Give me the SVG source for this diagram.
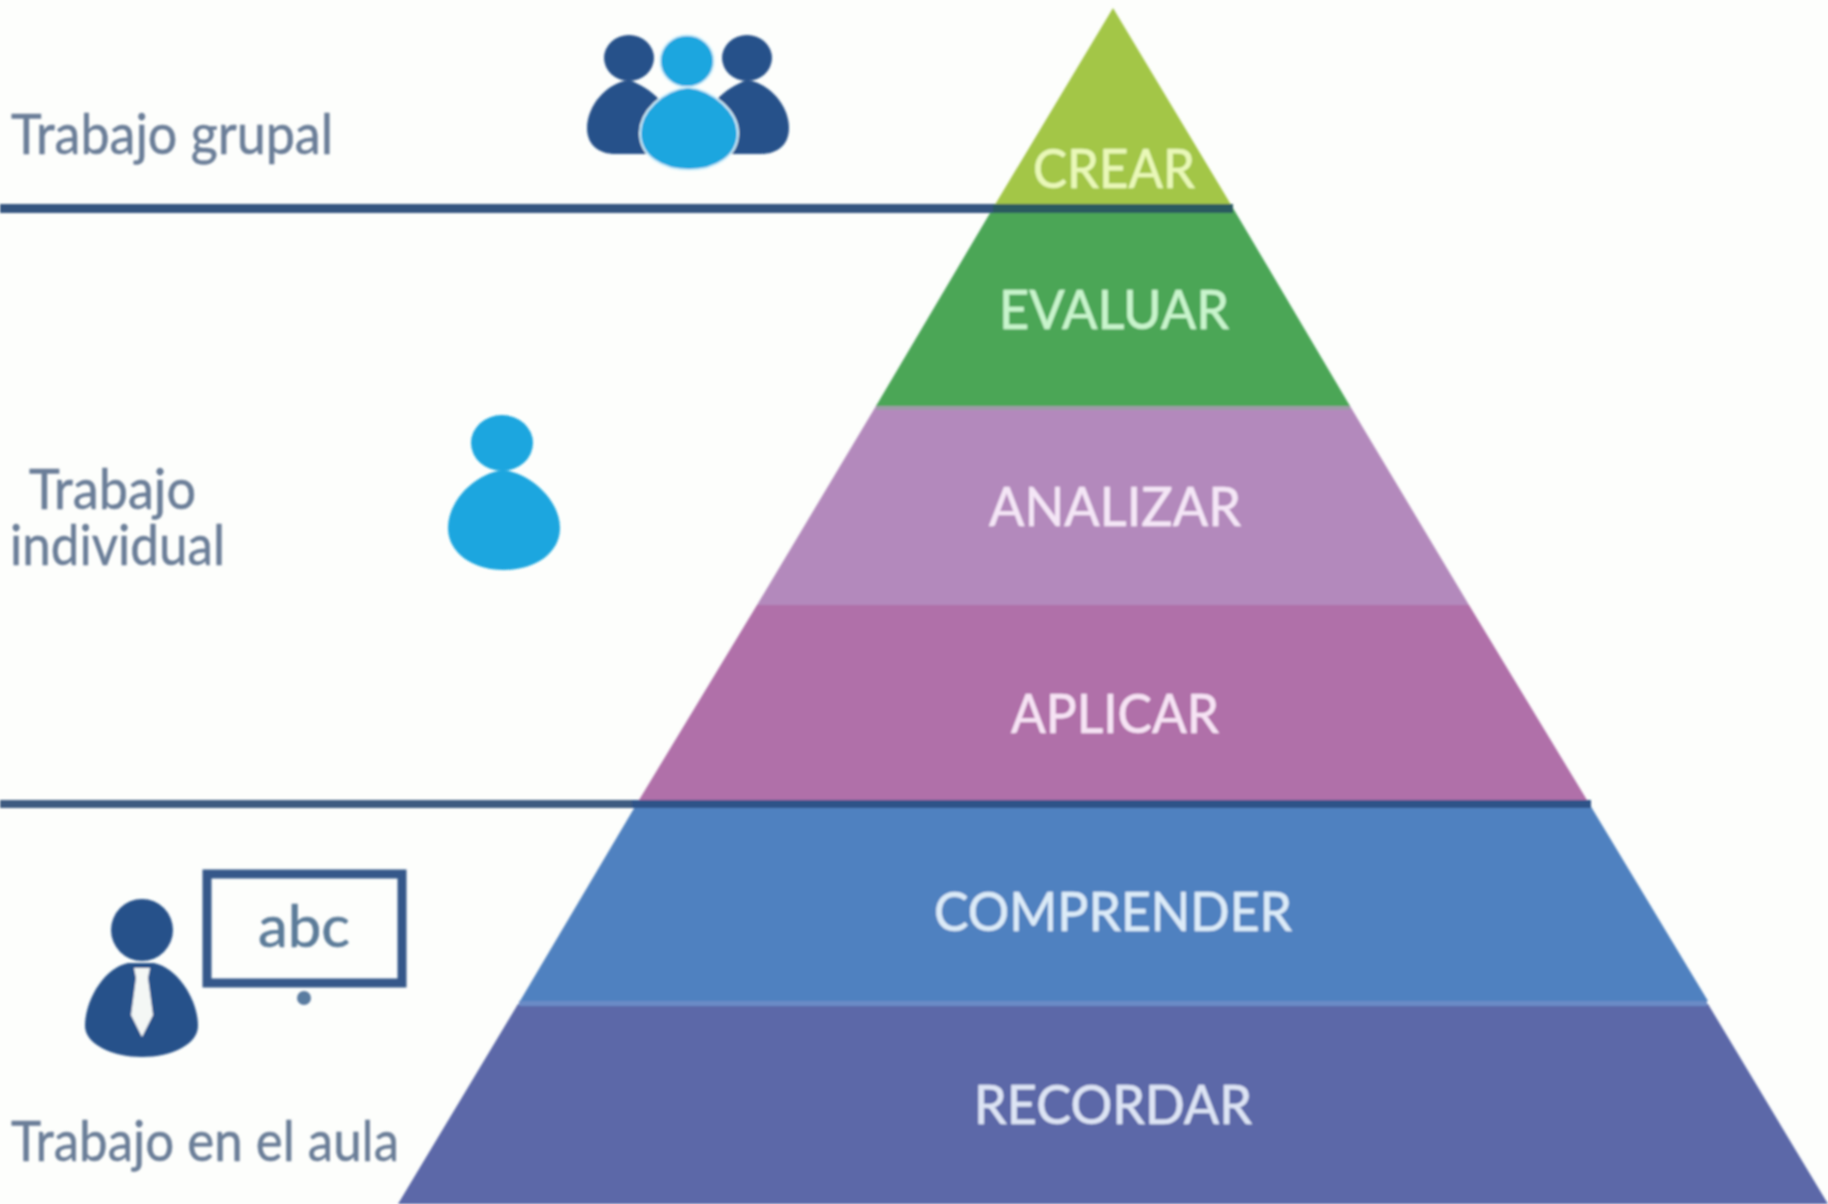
<svg xmlns="http://www.w3.org/2000/svg" width="1828" height="1204" viewBox="0 0 1828 1204">
<defs>
<style>
.lay{font-family:"Lato","Open Sans","Liberation Sans",sans-serif;font-size:54px;text-anchor:middle;stroke-width:.6px}
.side{font-family:"Lato","Open Sans","Liberation Sans",sans-serif;font-size:57px;fill:#6b7e98;stroke:#6b7e98;stroke-width:.5px}
</style>
<filter id="soft" x="-2%" y="-2%" width="104%" height="104%"><feGaussianBlur stdDeviation="1"/></filter>
</defs>
<rect width="1828" height="1204" fill="#fdfefc"/>
<g filter="url(#soft)">
<g id="layer-recordar"><polygon points="518,1004 1708,1004 1828,1204 398,1204" fill="#5b67a8"/><rect x="519" y="1001" width="1188" height="5" fill="#6b8bc6"/><text class="lay" x="1113" y="1124" textLength="278" lengthAdjust="spacingAndGlyphs" fill="#dde4f4" stroke="#dde4f4">RECORDAR</text></g>
<g id="layer-comprender"><polygon points="636,805 1590,805 1708,1001 520,1001" fill="#5081c0"/><text class="lay" x="1113" y="931" textLength="358" lengthAdjust="spacingAndGlyphs" fill="#dcebf8" stroke="#dcebf8">COMPRENDER</text></g>
<g id="layer-aplicar"><polygon points="757,605 1469,605 1590,805 636,805" fill="#b06fa9"/><text class="lay" x="1115" y="733" textLength="208" lengthAdjust="spacingAndGlyphs" fill="#f6e3f4" stroke="#f6e3f4">APLICAR</text></g>
<g id="layer-analizar"><polygon points="876,406 1350,406 1469,605 757,605" fill="#b389bc"/><rect x="876" y="405" width="474" height="5" fill="#9f9aa8"/><text class="lay" x="1115" y="526" textLength="252" lengthAdjust="spacingAndGlyphs" fill="#f4e6f6" stroke="#f4e6f6">ANALIZAR</text></g>
<g id="layer-evaluar"><polygon points="993,208 1233,208 1350,406 876,406" fill="#4ba657"/><text class="lay" x="1114" y="329" textLength="230" lengthAdjust="spacingAndGlyphs" fill="#c8f4cc" stroke="#c8f4cc">EVALUAR</text></g>
<g id="layer-crear"><polygon points="1113,8 1233,208 993,208" fill="#a3c647"/><text class="lay" x="1114" y="188" textLength="162" lengthAdjust="spacingAndGlyphs" fill="#e9f8b8" stroke="#e9f8b8">CREAR</text></g>
<g id="connectors">
<rect x="0" y="204" width="1000" height="9" fill="#34557f"/><rect x="993" y="204" width="240" height="9" fill="#2b5a5e"/>
<rect x="0" y="800" width="640" height="8" fill="#3d5a80"/><rect x="632" y="800" width="959" height="8" fill="#2f5388"/>
</g>
<g id="icon-group">
<g fill="#27518a"><ellipse cx="629" cy="58" rx="25" ry="23"/><path d="M629,80C606,83 587,106 587,128C587,146 600,154 615,154H660V100C650,90 640,84 629,80Z"/>
<ellipse cx="747" cy="58" rx="25" ry="23"/><path d="M747,80C770,83 789,106 789,128C789,146 776,154 761,154H716V100C726,90 736,84 747,80Z"/></g>
<g fill="#1aa6df" stroke="#d8f2fb" stroke-width="2"><ellipse cx="687" cy="61" rx="27" ry="26"/><path d="M688,87C662,90 640,112 640,133C640,156 662,170 689,170C716,170 738,156 738,133C738,112 714,90 688,87Z"/></g>
</g>
<g id="icon-single" fill="#1aa6df"><ellipse cx="502" cy="443" rx="31" ry="28"/><path d="M503,470C476,473 448,500 448,528C448,553 473,570 504,570C535,570 560,553 560,528C560,500 530,473 503,470Z"/></g>
<g id="icon-teacher">
<circle cx="142" cy="930" r="31" fill="#27518a"/>
<path d="M128,963C104,968 85,1000 85,1026C85,1044 112,1057 142,1057C172,1057 198,1044 198,1026C198,1000 178,968 154,963Z" fill="#27518a"/>
<path d="M134,968H150L148,978L153,1015L142,1037L131,1015L136,978Z" fill="#f4f7f5"/>
<rect x="207" y="874" width="195" height="109" fill="none" stroke="#34588a" stroke-width="9"/>
<circle cx="304" cy="998" r="7" fill="#5a7ba0"/>
<text x="304" y="947" font-family="Lato,'Open Sans','Liberation Sans',sans-serif" font-size="58" fill="#5c7b99" stroke="#5c7b99" stroke-width=".6" text-anchor="middle" textLength="92" lengthAdjust="spacingAndGlyphs">abc</text>
</g>
<g id="label-grupal"><text class="side" x="11" y="154" textLength="322" lengthAdjust="spacingAndGlyphs">Trabajo grupal</text></g>
<g id="label-individual"><text class="side" x="29" y="509" textLength="167" lengthAdjust="spacingAndGlyphs">Trabajo</text><text class="side" x="10" y="565" textLength="215" lengthAdjust="spacingAndGlyphs">individual</text></g>
<g id="label-aula"><text class="side" x="11" y="1161" textLength="388" lengthAdjust="spacingAndGlyphs">Trabajo en el aula</text></g>
</g>
</svg>
